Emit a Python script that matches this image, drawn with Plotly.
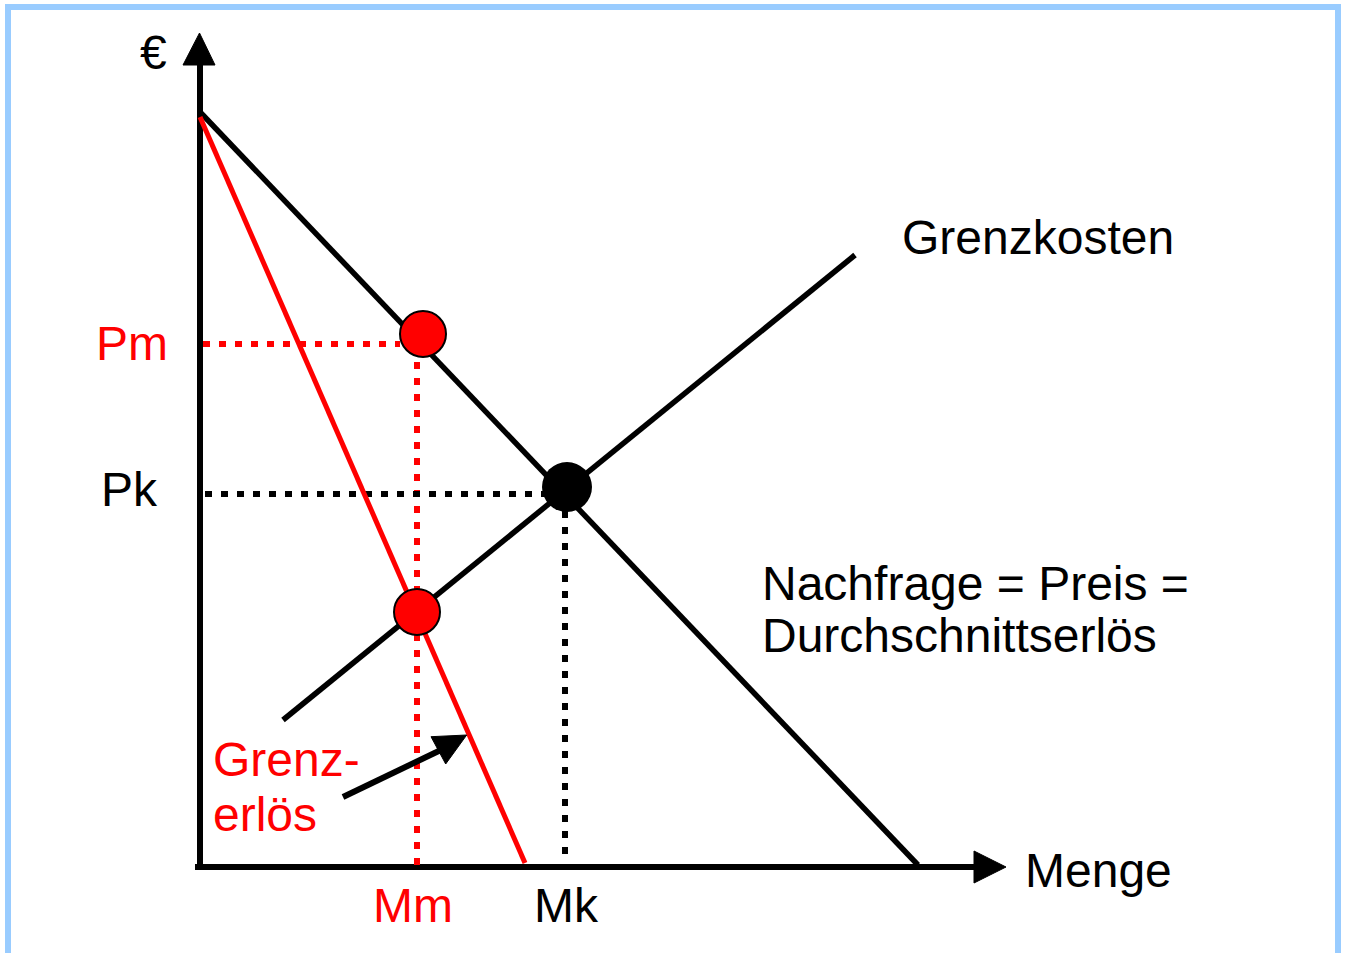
import plotly.graph_objects as go

# ---- data (economic units: quantity Q, price P) ----
demand_q = [0.0, 71.8]
demand_p = [75.5, 0.2]
mr_q = [0.0, 32.5]
mr_p = [75.0, 0.4]
mc_q = [8.3, 65.5]
mc_p = [14.7, 61.2]

cournot_q, cournot_p = 22.3, 53.3        # monopoly price point on demand
mrmc_q, mrmc_p = 21.7, 25.5              # MR = MC
comp_q, comp_p = 36.7, 38.0              # competitive equilibrium
Pm, Pk = 52.3, 37.3
Mm, Mk = 21.7, 36.5

labels_black = ["Grenzkosten", "Nachfrage = Preis =", "Durchschnittserlös", "Pk", "Mk", "Menge", "€"]
labels_red = ["Pm", "Mm", "Grenz-", "erlös"]

# axis extents
q_max_axis, p_max_axis = 77.4, 80.2
q_arrow_tip, p_arrow_tip = 80.6, 83.4

FONT = "Liberation Sans, Arial, sans-serif"
RED = "#FF0000"

fig = go.Figure()

def line(x, y, color="black", width=5, dash=None):
    fig.add_trace(go.Scatter(x=x, y=y, mode="lines",
                             line=dict(color=color, width=width, dash=dash),
                             hoverinfo="skip", showlegend=False))

# axes
line([0, 0], [-0.1, p_max_axis], width=6)
line([-0.5, q_max_axis], [0, 0], width=6)

def tri(pts):
    xs = [p[0] for p in pts] + [pts[0][0]]
    ys = [p[1] for p in pts] + [pts[0][1]]
    fig.add_trace(go.Scatter(x=xs, y=ys, mode="lines", fill="toself",
                             fillcolor="black", line=dict(color="black", width=1),
                             hoverinfo="skip", showlegend=False))

tri([(-0.05, p_arrow_tip), (-1.7, p_max_axis), (1.5, p_max_axis)])
tri([(q_arrow_tip, 0), (q_max_axis, 1.6), (q_max_axis, -1.6)])

# dotted guides
DOT = "7px,9px"
line([0.3, cournot_q - 2.3], [Pm, Pm], color=RED, width=6, dash=DOT)
line([Mm, Mm], [Pm - 0.2, 0.2], color=RED, width=6, dash=DOT)
line([0.5, comp_q - 2.2], [Pk, Pk], width=6, dash=DOT)
line([Mk, Mk], [comp_p - 2.4, 0.9], width=6, dash=DOT)

# curves
line(demand_q, demand_p, width=5.5)
line(mc_q, mc_p, width=5.5)
line(mr_q, mr_p, color=RED, width=5)

# pointer arrow to MR
line([14.3, 24.5], [7.0, 11.9], width=6)
tri([(26.67, 13.2), (23.1, 13.03), (24.57, 10.3)])

# points
fig.add_trace(go.Scatter(x=[cournot_q, mrmc_q], y=[cournot_p, mrmc_p], mode="markers",
                         marker=dict(size=46, color=RED, line=dict(color="black", width=2)),
                         hoverinfo="skip", showlegend=False))
fig.add_trace(go.Scatter(x=[comp_q], y=[comp_p], mode="markers",
                         marker=dict(size=50, color="black"),
                         hoverinfo="skip", showlegend=False))

def label(text, x, y, color="black", anchor="left", size=48):
    fig.add_annotation(x=x, y=y, text=text, showarrow=False, xanchor=anchor,
                       yanchor="middle", font=dict(family=FONT, size=size, color=color))

label(labels_black[0], 70.0, 63.0)
label(labels_black[1], 56.0, 28.4)
label(labels_black[2], 56.0, 23.2)
label(labels_black[3], -10.1, 37.8)
label(labels_black[4], 36.6, -3.8, anchor="center")
label(labels_black[5], 82.3, -0.3)
label(labels_black[6], -4.7, 81.5, anchor="center")
label(labels_red[0], -10.6, 52.4, color=RED)
label(labels_red[1], 21.3, -3.8, color=RED, anchor="center")
label(labels_red[2], 1.1, 10.8, color=RED)
label(labels_red[3], 1.1, 5.3, color=RED)

# light blue frame
fig.add_shape(type="rect", xref="paper", yref="paper",
              x0=8 / 1346, x1=1338 / 1346, y0=-0.05, y1=1 - 7 / 953,
              line=dict(color="#99CCFF", width=6), fillcolor="rgba(0,0,0,0)")

fig.update_layout(
    width=1346, height=953,
    margin=dict(l=0, r=0, t=0, b=0),
    paper_bgcolor="white", plot_bgcolor="white",
    xaxis=dict(range=[-20, 114.6], visible=False, fixedrange=True),
    yaxis=dict(range=[-8.6, 86.7], visible=False, fixedrange=True),
    showlegend=False,
)

fig.write_html("out.html", config={"displayModeBar": False},
               post_script="document.body.style.margin='0';document.body.style.overflow='hidden';")
